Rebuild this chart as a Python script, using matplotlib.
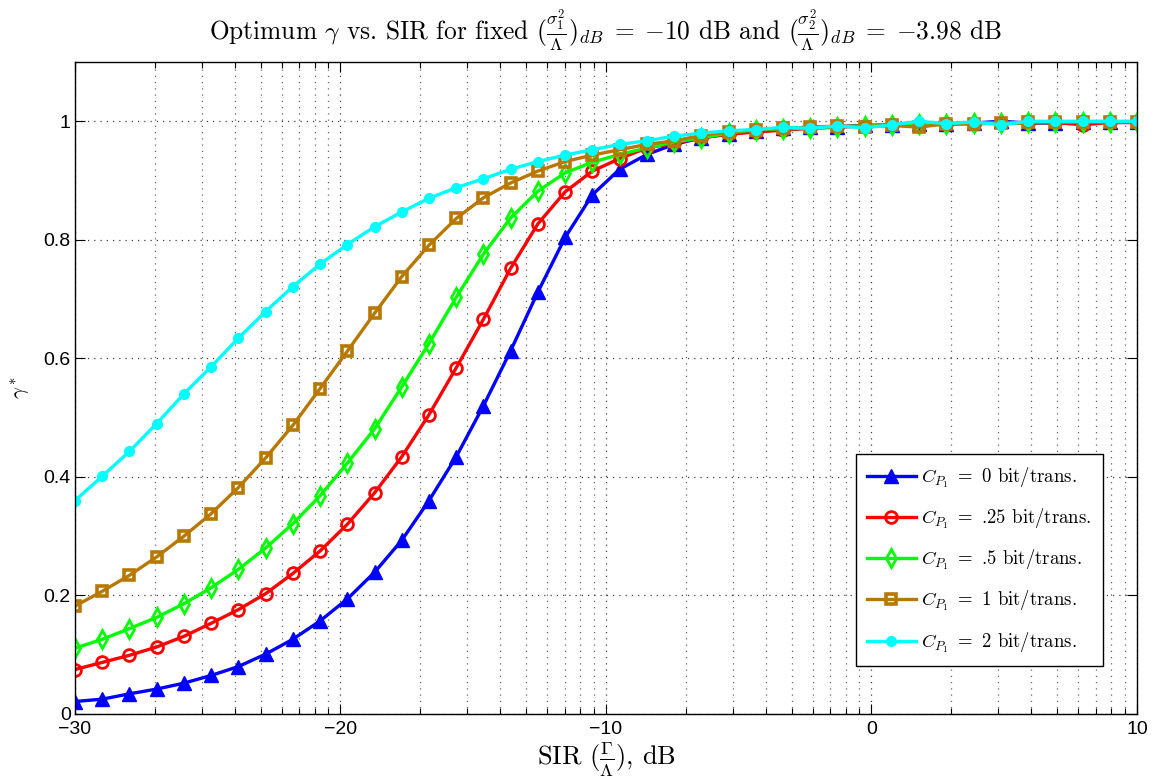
import numpy as np
import matplotlib
matplotlib.use("Agg")
import matplotlib.pyplot as plt
from matplotlib.ticker import FixedLocator, NullLocator

plt.rcParams['mathtext.fontset'] = 'cm'
plt.rcParams['font.family'] = ['Liberation Sans', 'DejaVu Sans']
plt.rcParams['axes.unicode_minus'] = True

# SIR axis: 40 points from -30 to 10 dB
sir_db = np.linspace(-30, 10, 40)

# optimum gamma for each C_P1
gamma_c0 = [0.021, 0.025, 0.034, 0.042, 0.052, 0.065, 0.080, 0.101, 0.126, 0.157,
            0.194, 0.239, 0.293, 0.360, 0.434, 0.520, 0.613, 0.712, 0.804, 0.876,
            0.919, 0.944, 0.961, 0.972, 0.979, 0.984, 0.988, 0.990, 0.991, 0.993,
            0.994, 0.995, 0.996, 0.997, 1.000, 0.997, 0.997, 0.998, 0.998, 0.998]
gamma_c025 = [0.075, 0.087, 0.099, 0.113, 0.131, 0.153, 0.176, 0.203, 0.237, 0.275,
              0.320, 0.373, 0.434, 0.505, 0.584, 0.666, 0.752, 0.827, 0.881, 0.916,
              0.937, 0.955, 0.963, 0.972, 0.978, 0.982, 0.985, 0.988, 0.990, 0.992,
              0.993, 0.994, 0.995, 0.996, 0.997, 0.997, 0.998, 0.994, 0.998, 0.998]
gamma_c05 = [0.111, 0.126, 0.144, 0.163, 0.186, 0.213, 0.244, 0.280, 0.321, 0.368,
             0.423, 0.481, 0.552, 0.625, 0.703, 0.776, 0.837, 0.882, 0.913, 0.931,
             0.944, 0.955, 0.965, 0.972, 0.980, 0.986, 0.987, 0.989, 0.991, 0.992,
             0.994, 0.995, 0.996, 0.997, 0.997, 0.998, 0.998, 0.999, 0.999, 0.999]
gamma_c1 = [0.182, 0.207, 0.234, 0.265, 0.300, 0.338, 0.382, 0.432, 0.487, 0.549,
            0.612, 0.676, 0.738, 0.791, 0.836, 0.871, 0.896, 0.916, 0.932, 0.943,
            0.952, 0.961, 0.967, 0.976, 0.982, 0.986, 0.988, 0.990, 0.992, 0.991,
            0.993, 0.990, 0.996, 0.996, 0.997, 0.998, 0.998, 0.999, 0.999, 0.999]
gamma_c2 = [0.360, 0.401, 0.443, 0.490, 0.540, 0.586, 0.634, 0.679, 0.721, 0.759,
            0.792, 0.822, 0.847, 0.870, 0.888, 0.903, 0.919, 0.932, 0.943, 0.952,
            0.961, 0.967, 0.975, 0.980, 0.984, 0.986, 0.990, 0.988, 0.992, 0.989,
            0.994, 1.000, 0.996, 0.999, 0.994, 1.000, 1.000, 1.000, 1.000, 1.000]

labels = [r'$C_{P_1}\;=$ 0 bit/trans.', r'$C_{P_1}\;=$ .25 bit/trans.',
          r'$C_{P_1}\;=$ .5 bit/trans.', r'$C_{P_1}\;=$ 1 bit/trans.',
          r'$C_{P_1}\;=$ 2 bit/trans.']

fig = plt.figure(figsize=(11.61, 7.82), dpi=100)
ax = fig.add_axes([0.0646, 0.087, 0.9147, 0.8337])

brown = (0.72, 0.47, 0.0)
ax.plot(sir_db, gamma_c0, '-^', color='b', lw=2.4, ms=9.5, mfc='b', mec='b', label=labels[0])
ax.plot(sir_db, gamma_c025, '-o', color='r', lw=2.4, ms=8.5, mfc='none', mec='r', mew=2, label=labels[1])
ax.plot(sir_db, gamma_c05, '-d', color=(0, 1, 0), lw=2.4, ms=9, mfc='none', mec=(0, 1, 0), mew=2, label=labels[2])
ax.plot(sir_db, gamma_c1, '-s', color=brown, lw=2.4, ms=6.5, mfc='none', mec=brown, mew=2.6, label=labels[3])
ax.plot(sir_db, gamma_c2, '-o', color=(0, 1, 1), lw=2.4, ms=7, mfc=(0, 1, 1), mec=(0, 1, 1), label=labels[4])

ax.set_xlim(-30, 10)
ax.set_ylim(0, 1.1)
ax.set_xticks([-30, -20, -10, 0, 10])
ax.set_yticks([0, 0.2, 0.4, 0.6, 0.8, 1])
ax.set_yticklabels(['0', '0.2', '0.4', '0.6', '0.8', '1'])

# matlab-style log minor ticks inside each decade
minor = [d + 10 * np.log10(k) for d in (-30, -20, -10, 0) for k in range(2, 10)]
ax.xaxis.set_minor_locator(FixedLocator(minor))
ax.yaxis.set_minor_locator(NullLocator())

ax.tick_params(which='both', direction='in', top=True, right=True, labelsize=14, width=0.8)
ax.tick_params(which='major', length=7)
ax.tick_params(axis='x', which='major', pad=5)
ax.tick_params(axis='y', which='major', pad=3)
ax.tick_params(which='minor', length=4)
ax.grid(True, which='major', linestyle=(0, (1, 4)), color='0.25', lw=0.9)
ax.grid(True, which='minor', axis='x', linestyle=(0, (1, 4)), color='0.4', lw=0.9)
ax.set_axisbelow(True)
for sp in ax.spines.values():
    sp.set_linewidth(1.0)

ax.set_title(r'Optimum $\gamma$ vs. SIR for fixed $(\frac{\sigma_1^2}{\Lambda})_{dB}\;=\;{-10}$ dB and '
             r'$(\frac{\sigma_2^2}{\Lambda})_{dB}\;=\;{-3.98}$ dB',
             fontfamily='cmr10', fontsize=18.3, pad=16)
ax.set_xlabel(r'SIR $(\frac{\Gamma}{\Lambda})$, dB', fontfamily='cmr10', fontsize=19, labelpad=2)
ax.set_ylabel(r'$\gamma^*$', fontsize=15, labelpad=8)

leg = ax.legend(loc='lower right', bbox_to_anchor=(0.968, 0.0736), prop={'family': 'cmr10', 'size': 13.5},
                fancybox=False, framealpha=1, edgecolor='k', handlelength=2.6, labelspacing=0.9,
                borderpad=0.6, handletextpad=0.3, borderaxespad=0)
leg.get_frame().set_linewidth(1.0)

fig.savefig('out.png', dpi=100)
